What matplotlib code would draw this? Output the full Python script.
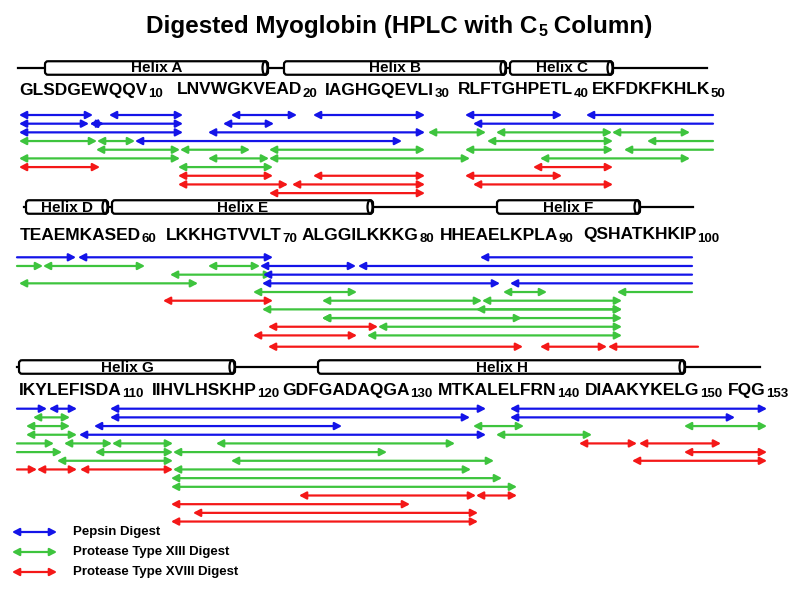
import matplotlib
matplotlib.use("Agg")
import matplotlib.pyplot as plt
from matplotlib.patches import FancyArrowPatch, FancyBboxPatch, Ellipse, ArrowStyle

plt.rcParams["font.family"] = ["Liberation Sans", "DejaVu Sans"]

# digest colours
COLORS = {"P": "#1414e8", "G": "#3ec43e", "R": "#f41818"}
LEGEND_LABELS = ["Pepsin Digest", "Protease Type XIII Digest", "Protease Type XVIII Digest"]

# sequence groups per row: (text, subscript number, left x)
row1_groups = [("GLSDGEWQQV", "10", 19), ("LNVWGKVEAD", "20", 177), ("IAGHGQEVLI", "30", 325),
               ("RLFTGHPETL", "40", 458), ("EKFDKFKHLK", "50", 592)]
row2_groups = [("TEAEMKASED", "60", 20), ("LKKHGTVVLT", "70", 166), ("ALGGILKKKG", "80", 302),
               ("HHEAELKPLA", "90", 440), ("QSHATKHKIP", "100", 583)]
row3_groups = [("IKYLEFISDA", "110", 19), ("IIHVLHSKHP", "120", 152), ("GDFGADAQGA", "130", 282),
               ("MTKALELFRN", "140", 438), ("DIAAKYKELG", "150", 585), ("FQG", "153", 728)]
seq_baselines = [94.5, 239.5, 395]

# helices: (label, start, end)
row1_helices = [("Helix A", 43, 270), ("Helix B", 282, 508), ("Helix C", 508, 615)]
row2_helices = [("Helix D", 24, 110), ("Helix E", 110, 375), ("Helix F", 495, 642)]
row3_helices = [("Helix G", 17, 237), ("Helix H", 316, 687)]
helix_lines = [(18, 707, 68), (24, 693, 207), (17, 760, 367)]

# peptide arrows: (level, start, end, digest, heads)
row1_arrows = [
    (0, 19, 93, "P", "b"), (0, 109, 183, "P", "b"), (0, 231, 297, "P", "b"), (0, 313, 425, "P", "b"),
    (0, 465, 562, "P", "b"), (0, 586, 713, "P", "l"),
    (1, 19, 89, "P", "b"), (1, 90, 104, "P", "b"), (1, 90, 183, "P", "b"), (1, 223, 274, "P", "b"),
    (1, 473, 713, "P", "l"),
    (2, 19, 183, "P", "b"), (2, 208, 425, "P", "b"), (2, 428, 486, "G", "b"), (2, 496, 612, "G", "b"),
    (2, 612, 690, "G", "b"),
    (3, 19, 97, "G", "b"), (3, 97, 135, "G", "b"), (3, 135, 402, "P", "b"), (3, 487, 613, "G", "b"),
    (3, 647, 713, "G", "l"),
    (4, 96, 180, "G", "b"), (4, 180, 250, "G", "b"), (4, 269, 425, "G", "b"), (4, 465, 613, "G", "b"),
    (4, 624, 713, "G", "l"),
    (5, 19, 180, "G", "b"), (5, 208, 269, "G", "b"), (5, 269, 470, "G", "b"), (5, 540, 690, "G", "b"),
    (6, 19, 100, "R", "b"), (6, 178, 273, "G", "b"), (6, 533, 613, "R", "b"),
    (7, 178, 273, "R", "b"), (7, 313, 425, "R", "b"), (7, 465, 562, "R", "b"),
    (8, 178, 288, "R", "b"), (8, 292, 425, "R", "b"), (8, 473, 613, "R", "b"),
    (9, 269, 425, "R", "b"),
]
row2_arrows = [
    (0, 17, 76, "P", "r"), (0, 78, 273, "P", "b"), (0, 480, 692, "P", "l"),
    (1, 17, 43, "G", "r"), (1, 43, 145, "G", "b"), (1, 208, 260, "G", "b"), (1, 260, 356, "P", "b"),
    (1, 358, 692, "P", "l"),
    (2, 170, 272, "G", "b"), (2, 263, 692, "P", "l"),
    (3, 19, 198, "G", "b"), (3, 262, 500, "P", "b"), (3, 510, 692, "P", "l"),
    (4, 253, 357, "G", "b"), (4, 503, 547, "G", "b"), (4, 617, 692, "G", "l"),
    (5, 163, 273, "R", "b"), (5, 322, 482, "G", "b"), (5, 482, 622, "G", "b"),
    (6, 262, 622, "G", "b"), (6, 476, 622, "G", "b"),
    (7, 322, 522, "G", "b"), (7, 322, 622, "G", "b"),
    (8, 268, 378, "R", "b"), (8, 378, 622, "G", "b"),
    (9, 253, 357, "R", "b"), (9, 367, 622, "G", "b"),
    (10.3, 268, 523, "R", "b"), (10.3, 540, 607, "R", "b"), (10.3, 608, 698, "R", "l"),
]
row3_arrows = [
    (0, 17, 47, "P", "r"), (0, 49, 77, "P", "b"), (0, 110, 486, "P", "b"), (0, 510, 767, "P", "b"),
    (1, 33, 70, "G", "b"), (1, 110, 470, "P", "b"), (1, 510, 735, "P", "b"),
    (2, 26, 70, "G", "b"), (2, 94, 342, "P", "b"), (2, 473, 524, "G", "b"), (2, 684, 767, "G", "b"),
    (3, 26, 77, "G", "b"), (3, 79, 486, "P", "b"), (3, 496, 592, "G", "b"),
    (4, 17, 54, "G", "r"), (4, 64, 112, "G", "b"), (4, 112, 173, "G", "b"), (4, 216, 455, "G", "b"),
    (4, 579, 637, "R", "b"), (4, 639, 721, "R", "b"),
    (5, 17, 62, "G", "r"), (5, 95, 173, "G", "b"), (5, 173, 387, "G", "b"), (5, 684, 767, "R", "b"),
    (6, 57, 173, "G", "b"), (6, 231, 494, "G", "b"), (6, 632, 767, "R", "b"),
    (7, 17, 37, "R", "r"), (7, 37, 77, "R", "b"), (7, 80, 173, "R", "b"), (7, 173, 471, "G", "b"),
    (8, 171, 502, "G", "b"),
    (9, 171, 517, "G", "b"),
    (10, 299, 476, "R", "b"), (10, 476, 517, "R", "b"),
    (11, 171, 410, "R", "b"),
    (12, 193, 478, "R", "b"),
    (13, 171, 478, "R", "b"),
]
arrow_rows = [(row1_arrows, 115.0), (row2_arrows, 257.3), (row3_arrows, 408.7)]
LEVEL_STEP = 8.68

STYLES = {"b": "<|-|>", "l": "<|-", "r": "-|>"}


def draw_arrow(ax, x0, x1, y, color, heads):
    style = ArrowStyle(STYLES[heads], head_length=0.42, head_width=0.22)
    arr = FancyArrowPatch((x0, y), (x1, y), arrowstyle=style, mutation_scale=10,
                          color=color, lw=1.6, shrinkA=0, shrinkB=0)
    ax.add_patch(arr)


def draw_helix(ax, label, x0, x1, yc):
    h = 13.5
    box = FancyBboxPatch((x0 + 2, yc - h / 2), x1 - x0 - 4, h,
                         boxstyle="round,pad=0,rounding_size=3",
                         facecolor="white", edgecolor="black", lw=1.6, zorder=3)
    ax.add_patch(box)
    cap = Ellipse((x1 - 5, yc), 5, h, facecolor="white", edgecolor="black", lw=1.6, zorder=4)
    ax.add_patch(cap)
    ax.text((x0 + x1) / 2, yc + 0.5, label, ha="center", va="center",
            fontsize=11, fontweight="bold", zorder=5)


fig = plt.figure(figsize=(8, 5.96), dpi=100)
ax = fig.add_axes([0, 0, 1, 1])
ax.set_xlim(0, 800)
ax.set_ylim(596, 0)
ax.axis("off")

# title
t1 = ax.text(146, 33, "Digested Myoglobin (HPLC with C", fontsize=17.5, fontweight="bold",
             ha="left", va="baseline")
t2 = ax.annotate("5", xy=(1, 0), xycoords=t1, xytext=(0.5, -1), textcoords="offset points",
                 fontsize=11.5, fontweight="bold", ha="left", va="bottom")
ax.annotate(" Column)", xy=(1, 0), xycoords=t2, xytext=(0, 1), textcoords="offset points",
            fontsize=17.5, fontweight="bold", ha="left", va="bottom")

# helix tracks
for (lx0, lx1, ly), helices in zip(helix_lines, [row1_helices, row2_helices, row3_helices]):
    ax.plot([lx0, lx1], [ly, ly], color="black", lw=1.6, zorder=2)
    for label, hx0, hx1 in helices:
        draw_helix(ax, label, hx0, hx1, ly)

# sequence text
for groups, base in zip([row1_groups, row2_groups, row3_groups], seq_baselines):
    for seq, num, gx in groups:
        t = ax.text(gx, base, seq, fontsize=12.5, fontweight="bold", ha="left", va="baseline")
        ax.annotate(num, xy=(1, 0), xycoords=t, xytext=(0.3, -1.5), textcoords="offset points",
                    fontsize=9.5, fontweight="bold", ha="left", va="bottom")

# peptide arrows
for arrows, y0 in arrow_rows:
    for level, x0, x1, key, heads in arrows:
        draw_arrow(ax, x0, x1, y0 + level * LEVEL_STEP, COLORS[key], heads)

# legend
for i, (key, label) in enumerate(zip(["P", "G", "R"], LEGEND_LABELS)):
    y = 532 + i * 20
    draw_arrow(ax, 12, 57, y, COLORS[key], "b")
    ax.text(73, y, label, fontsize=9.5, fontweight="bold", ha="left", va="center")

fig.savefig("out.png", dpi=100)
